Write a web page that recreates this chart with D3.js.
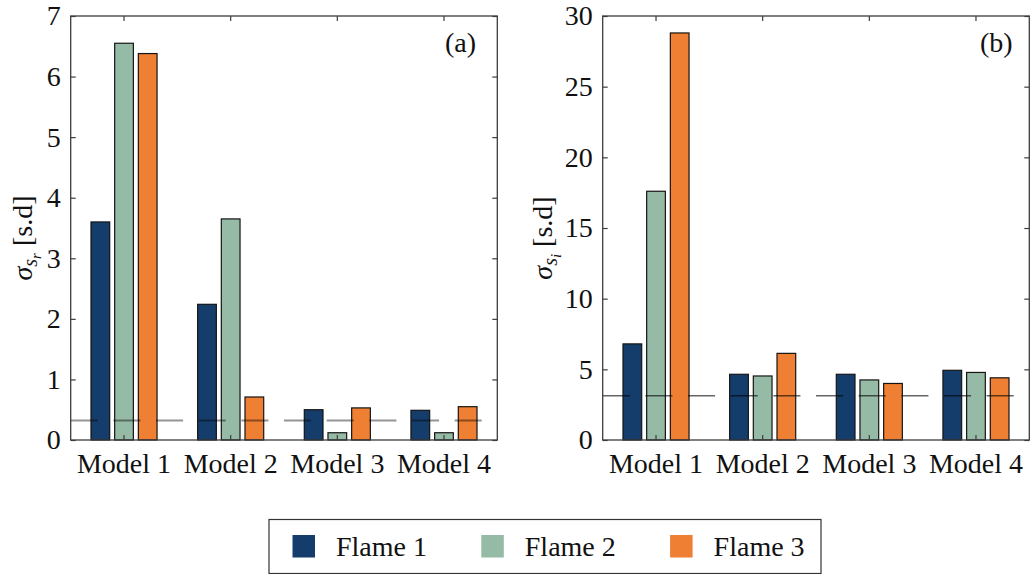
<!DOCTYPE html>
<html lang="en">
<head>
<meta charset="utf-8">
<script src="https://cdn.jsdelivr.net/npm/d3@7"></script>
<style>html, body { margin: 0; background: #fff; }</style>
</head>
<body>
<svg id="chart" width="1033" height="574"></svg>
<script>
// Categories and series
const categories = ["Model 1", "Model 2", "Model 3", "Model 4"];
const series = ["Flame 1", "Flame 2", "Flame 3"];
const seriesColors = ["#153d6b", "#95bba6", "#ef7f32"];

// Panel (a): sigma_{s_r}, one row per flame, one value per model
const sigmaR = [
  [3.60, 2.24, 0.50, 0.49],
  [6.55, 3.65, 0.12, 0.12],
  [6.38, 0.71, 0.53, 0.55]
];
// Panel (b): sigma_{s_i}
const sigmaI = [
  [6.80, 4.65, 4.65, 4.93],
  [17.6, 4.53, 4.25, 4.78],
  [28.8, 6.13, 4.00, 4.40]
];

// Reference levels drawn as dashed lines
const refR = 0.32;
const refI = 3.13;

// Tick values
const yTicksR = [0, 1, 2, 3, 4, 5, 6, 7];
const yTicksI = [0, 5, 10, 15, 20, 25, 30];

const svg = d3.select("#chart");
const FONT = 28;
const FAMILY = "Liberation Serif";
const plotTop = 16, plotBottom = 440;
const axisColor = "#3c3c3c";

// every text element gets the serif family and size directly
const serifText = sel => sel
  .style("font-family", FAMILY)
  .attr("font-size", FONT)
  .attr("fill", "#111");

function drawPanel(cfg) {
  const g = svg.append("g");
  const x = d3.scaleBand().domain(categories).range([cfg.x0, cfg.x1]).padding(0);
  const y = d3.scaleLinear().domain([0, d3.max(cfg.ticks)]).range([plotBottom, plotTop]);
  const xs = d3.scaleBand().domain(series).range([-38, 38]).paddingInner(0.21).paddingOuter(0.21);

  // bars
  series.forEach((s, si) => {
    g.append("g").selectAll("rect")
      .data(cfg.values[si])
      .join("rect")
      .attr("x", (d, i) => x(categories[i]) + x.bandwidth() / 2 + xs(s))
      .attr("width", xs.bandwidth())
      .attr("y", d => y(d))
      .attr("height", d => y(0) - y(d))
      .attr("fill", seriesColors[si])
      .attr("stroke", "#151515")
      .attr("stroke-width", 1.2);
  });

  // dashed reference line
  const span = cfg.x1 - cfg.x0;
  g.append("line")
    .attr("x1", cfg.x0).attr("x2", cfg.x1)
    .attr("y1", y(cfg.ref)).attr("y2", y(cfg.ref))
    .attr("stroke", "#000")
    .attr("stroke-opacity", cfg.refOpacity)
    .attr("stroke-width", cfg.refWidth)
    .attr("stroke-dasharray", `${span / 10 * 0.635} ${span / 10 * 0.365}`);

  // axes with inward ticks
  const styleAxis = sel => {
    sel.select(".domain").remove();
    sel.attr("font-family", null).attr("font-size", null);
    sel.selectAll(".tick line").attr("stroke", axisColor).attr("stroke-width", 1.2);
    sel.selectAll("text").call(serifText);
  };
  g.append("g").attr("transform", `translate(${cfg.x0},0)`)
    .call(d3.axisLeft(y).tickValues(cfg.ticks).tickFormat(d3.format("d"))
      .tickSizeInner(-5).tickSizeOuter(0).tickPadding(10))
    .call(styleAxis);
  g.append("g").attr("transform", `translate(${cfg.x1},0)`)
    .call(d3.axisRight(y).tickValues(cfg.ticks).tickSizeInner(-5).tickSizeOuter(0).tickFormat(""))
    .call(styleAxis);
  g.append("g").attr("transform", `translate(0,${plotBottom})`)
    .call(d3.axisBottom(x).tickSizeInner(-5).tickSizeOuter(0).tickPadding(13))
    .call(styleAxis);
  g.append("g").attr("transform", `translate(0,${plotTop})`)
    .call(d3.axisTop(x).tickSizeInner(-5).tickSizeOuter(0).tickFormat(""))
    .call(styleAxis);

  // box
  g.append("rect")
    .attr("x", cfg.x0).attr("y", plotTop)
    .attr("width", cfg.x1 - cfg.x0).attr("height", plotBottom - plotTop)
    .attr("fill", "none").attr("stroke", axisColor).attr("stroke-width", 1.3);

  // panel tag
  g.append("text")
    .call(serifText)
    .attr("x", cfg.tagX).attr("y", 52)
    .text(cfg.tag);

  // y label: sigma with nested subscript
  const lab = g.append("text")
    .call(serifText)
    .attr("transform", `translate(${cfg.labelX},238) rotate(-90)`)
    .attr("text-anchor", "middle");
  lab.append("tspan").attr("font-style", "italic").text("σ");
  lab.append("tspan").attr("font-style", "italic").attr("font-size", 20).attr("dy", 5).text("s");
  lab.append("tspan").attr("font-style", "italic").attr("font-size", 15).attr("dy", 4).text(cfg.sub);
  lab.append("tspan").attr("dy", -9).text(" [s.d]");
}

drawPanel({ x0: 70.7, x1: 497.3, values: sigmaR, ticks: yTicksR, ref: refR,
  refOpacity: 0.42, refWidth: 2, tag: "(a)", tagX: 445, labelX: 32, sub: "r" });
drawPanel({ x0: 602.7, x1: 1029.3, values: sigmaI, ticks: yTicksI, ref: refI,
  refOpacity: 0.6, refWidth: 1.4, tag: "(b)", tagX: 980, labelX: 552, sub: "i" });

// legend
const legend = svg.append("g");
legend.append("rect")
  .attr("x", 269).attr("y", 519.5).attr("width", 552).attr("height", 54)
  .attr("fill", "#fff").attr("stroke", "#333").attr("stroke-width", 1.2);
const item = legend.selectAll("g.item").data(series).join("g")
  .attr("class", "item")
  .attr("transform", (d, i) => `translate(${292.5 + i * 188.8},0)`);
item.append("rect")
  .attr("x", 0).attr("y", 535).attr("width", 22.5).attr("height", 22.5)
  .attr("fill", (d, i) => seriesColors[i]);
item.append("text")
  .call(serifText)
  .attr("x", 43.5).attr("y", 555.5)
  .text(d => d);
</script>
</body>
</html>
